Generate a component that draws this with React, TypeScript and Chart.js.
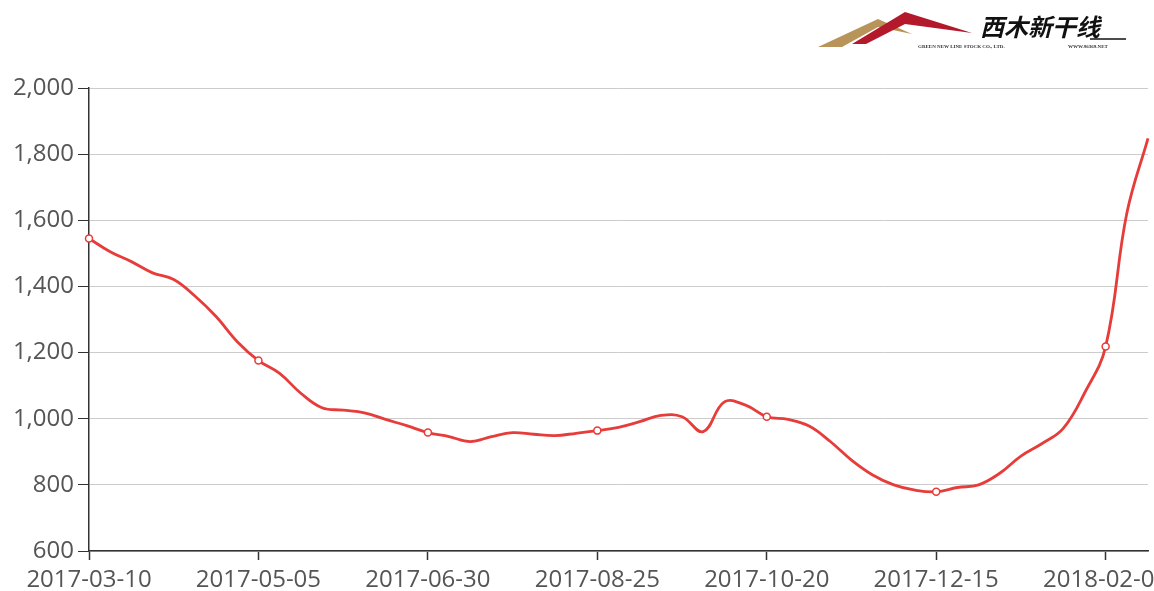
import React, { useEffect, useRef } from "react";
import { Chart, registerables } from "chart.js";

Chart.register(...registerables);

const dates: string[] = [
  "2017-03-10", "2017-03-17", "2017-03-24", "2017-03-31", "2017-04-07", "2017-04-14", "2017-04-21", "2017-04-28",
  "2017-05-05", "2017-05-12", "2017-05-19", "2017-05-26", "2017-06-02", "2017-06-09", "2017-06-16", "2017-06-23",
  "2017-06-30", "2017-07-07", "2017-07-14", "2017-07-21", "2017-07-28", "2017-08-04", "2017-08-11", "2017-08-18",
  "2017-08-25", "2017-09-01", "2017-09-08", "2017-09-15", "2017-09-22", "2017-09-29", "2017-10-06", "2017-10-13",
  "2017-10-20", "2017-10-27", "2017-11-03", "2017-11-10", "2017-11-17", "2017-11-24", "2017-12-01", "2017-12-08",
  "2017-12-15", "2017-12-22", "2017-12-29", "2018-01-05", "2018-01-12", "2018-01-19", "2018-01-26", "2018-02-02",
  "2018-02-09", "2018-02-16", "2018-02-23",
];

const prices: number[] = [
  1545, 1505, 1475, 1441, 1421, 1371, 1309, 1233,
  1176, 1137, 1077, 1033, 1026, 1018, 998, 979,
  958, 946, 931, 946, 958, 953, 949, 956,
  964, 974, 991, 1010, 1006, 961, 1051, 1041,
  1006, 998, 978, 931, 875, 830, 800, 784,
  779, 792, 800, 835, 887, 925, 971, 1077,
  1218, 1621, 1848,
];

const yMin = 600;
const yMax = 2000;
const yStep = 200;
const labelEvery = 8;

const RED = "#e63c3a";
const FONT = "'Open Sans', 'Noto Sans', sans-serif";

const logoPlugin = {
  id: "logo",
  afterDraw(chart: any) {
    const ctx = chart.ctx as CanvasRenderingContext2D;
    ctx.save();
    // gold mountain
    ctx.fillStyle = "#b8945a";
    ctx.beginPath();
    ctx.moveTo(818, 47);
    ctx.lineTo(878, 19);
    ctx.lineTo(912, 34);
    ctx.lineTo(878, 27);
    ctx.lineTo(842, 47);
    ctx.closePath();
    ctx.fill();
    // red mountain
    ctx.fillStyle = "#b3192b";
    ctx.beginPath();
    ctx.moveTo(852, 44);
    ctx.lineTo(905, 12);
    ctx.lineTo(972, 33);
    ctx.lineTo(905, 24);
    ctx.lineTo(866, 44);
    ctx.closePath();
    ctx.fill();
    // text
    ctx.fillStyle = "#111";
    ctx.font = "italic bold 24px 'Noto Sans CJK SC'";
    ctx.textBaseline = "alphabetic";
    ctx.textAlign = "left";
    ctx.fillText("西木新干线", 980, 36);
    ctx.strokeStyle = "#111";
    ctx.lineWidth = 1.5;
    ctx.beginPath();
    ctx.moveTo(1090, 39);
    ctx.lineTo(1126, 39);
    ctx.stroke();
    ctx.font = "bold 5px 'Liberation Serif'";
    ctx.fillStyle = "#333";
    ctx.fillText("GREEN NEW LINE STOCK CO., LTD.", 918, 48);
    ctx.fillText("WWW.96369.NET", 1068, 48);
    ctx.restore();
  },
};

export default function App() {
  const canvasRef = useRef<HTMLCanvasElement | null>(null);

  useEffect(() => {
    const canvas = canvasRef.current;
    if (!canvas) return;
    const chart = new Chart(canvas, {
      type: "line",
      data: {
        labels: dates,
        datasets: [
          {
            data: prices,
            borderColor: RED,
            borderWidth: 2.8,
            tension: 0.4,
            fill: false,
            pointRadius: (ctx: any) => (ctx.dataIndex % labelEvery === 0 ? 3.5 : 0),
            pointBackgroundColor: "#ffffff",
            pointBorderColor: RED,
            pointBorderWidth: 1.5,
          },
        ],
      },
      options: {
        animation: false,
        responsive: false,
        devicePixelRatio: 1,
        layout: { padding: { top: 88, right: 82, left: 0, bottom: 0 } },
        plugins: {
          legend: { display: false },
          tooltip: { enabled: false },
        },
        scales: {
          x: {
            type: "category",
            offset: false,
            afterFit: (scale: any) => {
              scale.height = 40;
            },
            border: { display: true, color: "#333", width: 1.5 },
            grid: {
              drawOnChartArea: false,
              drawTicks: true,
              tickLength: 9,
              tickWidth: 1.5,
              tickColor: (ctx: any) => (ctx.index % labelEvery === 0 ? "#333" : "rgba(0,0,0,0)"),
            },
            ticks: {
              autoSkip: false,
              maxRotation: 0,
              minRotation: 0,
              padding: 6,
              color: "#555",
              font: { family: FONT, size: 24 },
              callback: (_v: any, i: number) => (i % labelEvery === 0 ? dates[i] : ""),
            },
          },
          y: {
            min: yMin,
            max: yMax,
            afterFit: (scale: any) => {
              scale.width = 89;
            },
            border: { display: true, color: "#333", width: 1.5 },
            grid: {
              color: "#cccccc",
              lineWidth: 1,
              drawTicks: true,
              tickLength: 11,
              tickColor: "#333",
            },
            ticks: {
              stepSize: yStep,
              padding: 4,
              color: "#555",
              font: { family: FONT, size: 24 },
              callback: (v: any) => Number(v).toLocaleString("en-US"),
            },
          },
        },
      },
      plugins: [logoPlugin],
    });
    return () => chart.destroy();
  }, []);

  return (
    <div
      style={{
        position: "fixed",
        left: 0,
        top: 0,
        width: 1154,
        height: 591,
        overflow: "hidden",
        background: "#fff",
      }}
    >
      <canvas ref={canvasRef} width={1230} height={591} style={{ width: 1230, height: 591, display: "block" }} />
    </div>
  );
}
